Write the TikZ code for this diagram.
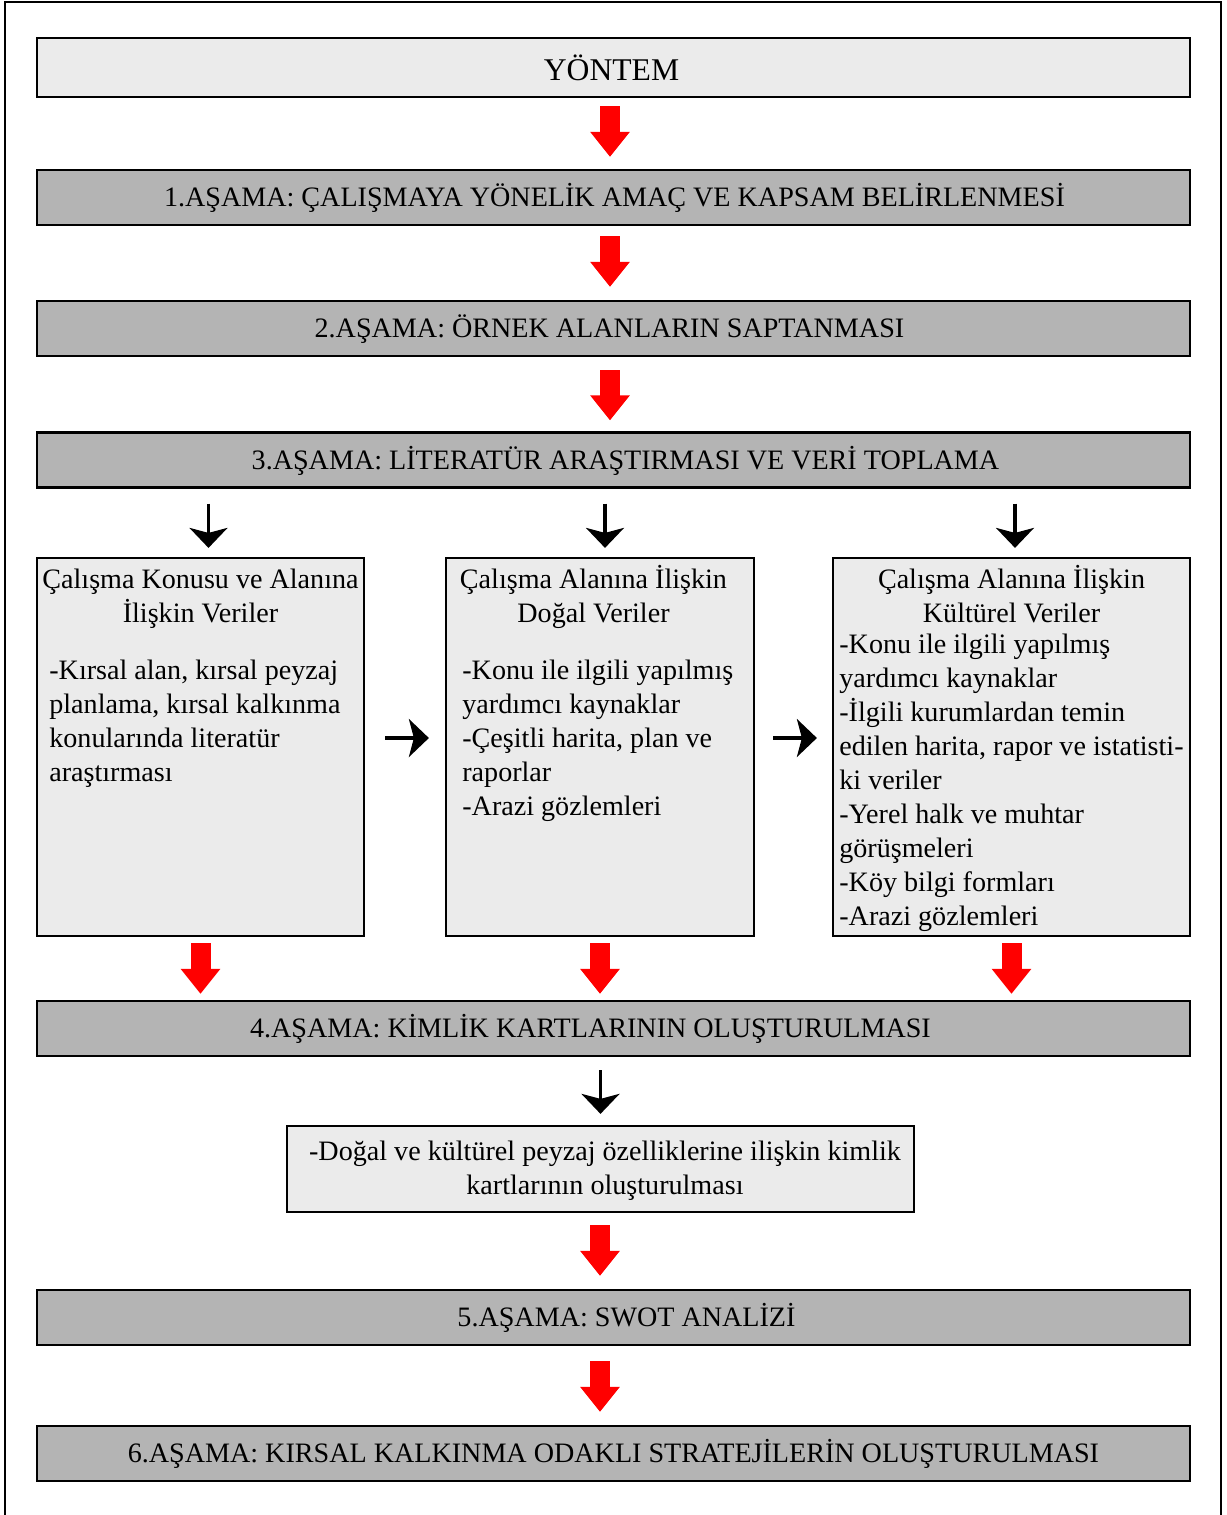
\documentclass[tikz,border=0pt]{standalone}
\usepackage{fontspec}
\setmainfont{Liberation Serif}
\usepackage{xcolor}
\usepackage{tikz}
\usetikzlibrary{calc,arrows.meta}
\definecolor{lightbg}{HTML}{EBEBEB}
\definecolor{stagebg}{HTML}{B4B4B4}
\definecolor{arrred}{HTML}{FF0000}
\tikzset{
  frame/.style={draw=black, line width=1.1pt},
  boxline/.style={draw=black, line width=1.3pt},
  titlebox/.style={boxline, fill=lightbg, minimum width=23.06cm, minimum height=1.18cm, inner sep=0pt},
  stagebox/.style={boxline, fill=stagebg, minimum width=23.06cm, minimum height=1.1cm, inner sep=0pt},
  databox/.style={boxline, fill=lightbg, inner sep=0pt},
  txt/.style={font=\fontsize{16}{19.3}\selectfont, inner sep=0pt, text=black},
  stagetxt/.style={txt, anchor=base},
  headtxt/.style={txt, anchor=base, align=center},
  itemtxt/.style={txt, anchor=base west, align=left},
  redarr/.style={draw=arrred, line width=0.4cm, -{Triangle[width=0.76cm,length=0.5cm]}},
  blkarr/.style={draw=black, line width=1.8pt, -{Stealth[width=0.76cm,length=0.4cm,inset=0.1cm]}},
}
\begin{document}
\begin{tikzpicture}[x=0.02cm, y=-0.02cm]
  \useasboundingbox (0,0) rectangle (1227,1515);
  \draw[frame] (5,1515) |- (1221,2) -- (1221,1515);

  % title and stages
  \node[titlebox] (yontem) at (613.5,67.5) {};
  \node[stagetxt, font=\fontsize{18}{21}\selectfont] (yontemtxt) at (611.5,80) {YÖNTEM};

  \foreach \n/\y in {1/197.5, 2/328.5, 3/460, 4/1028.5, 5/1317.5, 6/1453.5}
    \node[stagebox] (s\n) at (613.5,\y) {};

  \foreach \n/\dx/\t in {1/1/{1.AŞAMA: ÇALIŞMAYA YÖNELİK AMAÇ VE KAPSAM BELİRLENMESİ},
                         2/-4/{2.AŞAMA: ÖRNEK ALANLARIN SAPTANMASI},
                         3/12/{3.AŞAMA: LİTERATÜR ARAŞTIRMASI VE VERİ TOPLAMA},
                         4/-23/{4.AŞAMA: KİMLİK KARTLARININ OLUŞTURULMASI},
                         5/13/{5.AŞAMA: SWOT ANALİZİ},
                         6/0/{6.AŞAMA: KIRSAL KALKINMA ODAKLI STRATEJİLERİN OLUŞTURULMASI}}
    \node[stagetxt] (t\n) at ($(s\n.center)+(\dx,9)$) {\t};

  % data boxes (text nodes sit on the baseline of their last line)
  \node[databox, minimum width=6.54cm, minimum height=7.56cm] (boxA) at (200.5,747) {};
  \node[databox, minimum width=6.16cm, minimum height=7.56cm] (boxB) at (600,747) {};
  \node[databox, minimum width=7.14cm, minimum height=7.56cm] (boxC) at (1011.5,747) {};

  \node[headtxt] (headA) at (200.5,622) {Çalışma Konusu ve Alanına\\İlişkin Veriler};
  \node[itemtxt] (itemA) at (49,781) {-Kırsal alan, kırsal peyzaj\\planlama, kırsal kalkınma\\konularında literatür\\araştırması};

  \node[headtxt] (headB) at (593.5,622) {Çalışma Alanına İlişkin\\Doğal Veriler};
  \node[itemtxt] (itemB) at (462,815) {-Konu ile ilgili yapılmış\\yardımcı kaynaklar\\-Çeşitli harita, plan ve\\raporlar\\-Arazi gözlemleri};

  \node[headtxt] (headC) at (1011.5,622) {Çalışma Alanına İlişkin\\Kültürel Veriler};
  \node[itemtxt] (itemC) at (839,925) {-Konu ile ilgili yapılmış\\yardımcı kaynaklar\\-İlgili kurumlardan temin\\edilen harita, rapor ve istatisti-\\ki veriler\\-Yerel halk ve muhtar\\görüşmeleri\\-Köy bilgi formları\\-Arazi gözlemleri};

  \node[databox, minimum width=12.54cm, minimum height=1.72cm] (boxD) at (600.5,1169) {};
  \node[headtxt] (textD) at (605,1194) {-Doğal ve kültürel peyzaj özelliklerine ilişkin kimlik\\kartlarının oluşturulması};

  % red arrows
  \draw[redarr, shorten <=0.16cm, shorten >=0.24cm] ($(yontem.south)+(-3.5,0)$) -- ($(s1.north)+(-3.5,0)$);
  \draw[redarr, shorten <=0.2cm, shorten >=0.26cm] ($(s1.south)+(-3.5,0)$) -- ($(s2.north)+(-3.5,0)$);
  \draw[redarr, shorten <=0.26cm, shorten >=0.22cm] ($(s2.south)+(-3.5,0)$) -- ($(s3.north)+(-3.5,0)$);
  \foreach \b in {boxA,boxB,boxC}
    \draw[redarr, shorten <=0.12cm, shorten >=0.12cm] (\b.south) -- (\b.south |- s4.north);
  \draw[redarr, shorten <=0.24cm, shorten >=0.26cm] ($(boxD.south)+(-0.5,0)$) -- ($(boxD.south |- s5.north)+(-0.5,0)$);
  \draw[redarr, shorten <=0.3cm, shorten >=0.26cm] ($(boxD.south |- s5.south)+(-0.5,0)$) -- ($(boxD.south |- s6.north)+(-0.5,0)$);

  % black arrows
  \foreach \b/\dx in {boxA/8, boxB/5, boxC/3.5}
    \draw[blkarr, shorten <=0.3cm, shorten >=0.18cm] ($(\b.north |- s3.south)+(\dx,0)$) -- ($(\b.north)+(\dx,0)$);
  \draw[blkarr, shorten <=0.4cm, shorten >=0.32cm] ([yshift=0.18cm]boxA.east) -- ([yshift=0.18cm]boxA.east -| boxB.west);
  \draw[blkarr, shorten <=0.36cm, shorten >=0.3cm] ([yshift=0.18cm]boxB.east) -- ([yshift=0.18cm]boxB.east -| boxC.west);
  \draw[blkarr, shorten <=0.26cm, shorten >=0.22cm] (boxD.north |- s4.south) -- (boxD.north);
\end{tikzpicture}
\end{document}
